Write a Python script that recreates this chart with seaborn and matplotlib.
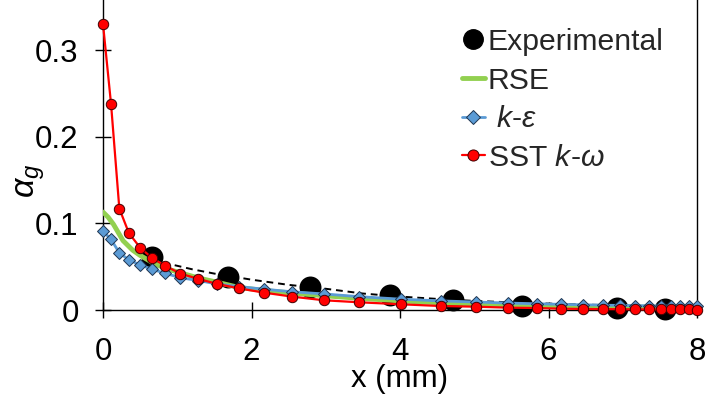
import matplotlib
matplotlib.use("Agg")
import matplotlib.pyplot as plt
from matplotlib.lines import Line2D
import seaborn as sns

# ---- data ----
exp_x = [0.66, 1.68, 2.79, 3.87, 4.71, 5.64, 6.92, 7.57]
exp_y = [0.061, 0.038, 0.026, 0.017, 0.0115, 0.005, 0.002, 0.001]

trend_x = [0.66, 0.9, 1.2, 1.5, 2.0, 2.5, 3.0, 3.5, 4.0, 4.5, 5.0, 5.5, 6.0, 6.5, 7.0, 7.57]
trend_y = [0.058, 0.053, 0.047, 0.042, 0.035, 0.029, 0.0245, 0.019, 0.0155, 0.0128,
           0.0105, 0.0088, 0.0074, 0.0062, 0.0052, 0.0043]

rse_x = [0, 0.07, 0.14, 0.27, 0.40, 0.50, 0.66, 0.84, 1.04, 1.28, 1.54, 1.83, 2.17, 2.55,
         2.98, 3.45, 4.0, 4.5, 5.0, 5.5, 6.0, 6.5, 7.0, 7.5, 8.0]
rse_y = [0.113, 0.107, 0.099, 0.080, 0.069, 0.063, 0.055, 0.048, 0.043, 0.037, 0.032, 0.026,
         0.0225, 0.0195, 0.0165, 0.0135, 0.0105, 0.0085, 0.007, 0.0058, 0.0048, 0.004,
         0.0034, 0.003, 0.0026]

cfd_x = [0, 0.108, 0.22, 0.35, 0.50, 0.66, 0.84, 1.04, 1.28, 1.54, 1.83, 2.17, 2.55, 2.98,
         3.45, 4.01, 4.55, 5.03, 5.46, 5.84, 6.17, 6.47, 6.73, 6.96, 7.16, 7.35, 7.52, 7.65,
         7.77, 7.89, 8.0]
ke_y = [0.091, 0.0815, 0.066, 0.0577, 0.052, 0.047, 0.0423, 0.0373, 0.034, 0.030, 0.027,
        0.024, 0.021, 0.0185, 0.0154, 0.0125, 0.0105, 0.0092, 0.0080, 0.0072, 0.0065, 0.006,
        0.0056, 0.0053, 0.005, 0.0048, 0.0046, 0.0045, 0.0044, 0.0043, 0.0042]
sst_y = [0.330, 0.238, 0.117, 0.0885, 0.072, 0.060, 0.051, 0.042, 0.036, 0.030, 0.025,
         0.020, 0.0154, 0.0112, 0.0089, 0.0066, 0.0046, 0.0038, 0.0027, 0.0023, 0.0015,
         0.0012, 0.0010, 0.0009, 0.0008, 0.0007, 0.0007, 0.0006, 0.0006, 0.0006, 0.0005]

x_ticks = [0, 2, 4, 6, 8]
y_ticks = [0, 0.1, 0.2, 0.3]
y_ticklabels = ["0", "0.1", "0.2", "0.3"]
legend_labels = ["Experimental", "RSE", r" $k$-$\varepsilon$", r"SST $k$-$\omega$"]

# ---- style ----
sns.set_theme(style="white")
plt.rcParams["font.family"] = ["Liberation Sans", "DejaVu Sans"]
plt.rcParams["mathtext.fontset"] = "custom"
plt.rcParams["mathtext.rm"] = "Liberation Sans"
plt.rcParams["mathtext.it"] = "Liberation Sans:italic"
plt.rcParams["mathtext.bf"] = "Liberation Sans:bold"

FS = 22.5
LFS = 21.7
GREEN = "#92d050"
BLUE = "#5b9bd5"
RED = "#ff0000"

fig = plt.figure(figsize=(7.06, 4.01), dpi=100)
ax = fig.add_axes([103 / 706, 1 - 310 / 401, 594 / 706, 310 / 401])

sns.scatterplot(x=exp_x, y=exp_y, ax=ax, color="black", s=250, linewidth=0,
                zorder=2, clip_on=False)
sns.lineplot(x=trend_x, y=trend_y, ax=ax, color="black", linestyle=(0, (3.5, 2.5)),
             linewidth=1.4, estimator=None, sort=False, zorder=3)
sns.lineplot(x=rse_x, y=rse_y, ax=ax, color=GREEN, linewidth=3.5,
             estimator=None, sort=False, zorder=4)
sns.lineplot(x=cfd_x, y=ke_y, ax=ax, color=BLUE, linewidth=2.0, marker="D",
             markersize=6, markerfacecolor=BLUE, markeredgecolor="#1f3550",
             markeredgewidth=0.7, estimator=None, sort=False, zorder=5, clip_on=False)
sns.lineplot(x=cfd_x, y=sst_y, ax=ax, color=RED, linewidth=1.6, marker="o",
             markersize=7.5, markerfacecolor=RED, markeredgecolor="#400000",
             markeredgewidth=0.7, estimator=None, sort=False, zorder=6, clip_on=False)

ax.set_xlim(0, 8)
ax.set_ylim(0, 0.3577)
ax.set_xticks(x_ticks)
ax.set_xticklabels([str(t) for t in x_ticks])
ax.set_yticks(y_ticks)
ax.set_yticklabels(y_ticklabels)
ax.tick_params(axis="both", which="major", bottom=True, left=True, top=False, right=False,
               direction="inout", length=11, width=1.0, color="black",
               labelsize=FS, labelcolor="black")
ax.tick_params(axis="x", pad=14)
ax.tick_params(axis="y", pad=12)
for s in ["left", "bottom", "right"]:
    ax.spines[s].set_visible(True)
    ax.spines[s].set_color("black")
    ax.spines[s].set_linewidth(1.0)
ax.spines["top"].set_visible(False)

ax.set_xlabel("x (mm)", fontsize=FS, color="black")
ax.xaxis.set_label_coords(0.5, -0.175)
ax.set_ylabel(r"$\alpha_g$", fontsize=FS + 2, color="black")
ax.yaxis.set_label_coords(-0.094, 0.416)

handles = [
    Line2D([], [], color="black", marker="o", linestyle="none", markersize=14),
    Line2D([], [], color=GREEN, linewidth=3.5),
    Line2D([], [], color=BLUE, linewidth=2, marker="D", markersize=7,
           markerfacecolor=BLUE, markeredgecolor="#1f3550", markeredgewidth=0.7),
    Line2D([], [], color=RED, linewidth=1.6, marker="o", markersize=8,
           markerfacecolor=RED, markeredgecolor="#400000", markeredgewidth=0.7),
]
leg = ax.legend(handles, legend_labels, loc="upper left",
                bbox_to_anchor=(462 / 706, 1 - 28 / 401),
                bbox_transform=fig.transFigure, frameon=False, fontsize=LFS,
                handlelength=0.75, handletextpad=0.1, labelspacing=0.35, borderpad=0,
                borderaxespad=0)

fig.savefig("out.png", dpi=100)
